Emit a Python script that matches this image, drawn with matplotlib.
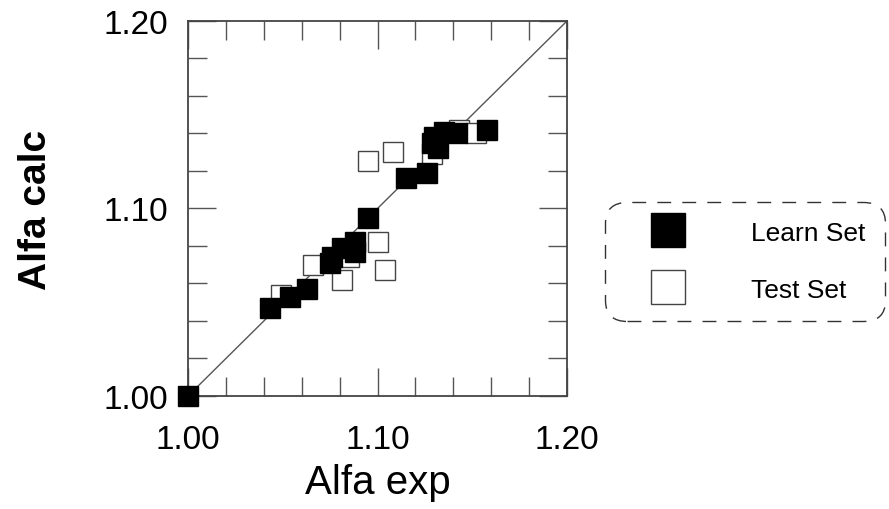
import numpy as np
import matplotlib.pyplot as plt
from matplotlib.ticker import MultipleLocator, FormatStrFormatter

plt.rcParams['font.family'] = ['Liberation Sans', 'DejaVu Sans']

# learn set (filled squares)
learn_x = [1.000, 1.043, 1.054, 1.063, 1.075, 1.076, 1.081, 1.088, 1.088, 1.095,
           1.115, 1.126, 1.129, 1.130, 1.132, 1.135, 1.142, 1.158]
learn_y = [1.000, 1.047, 1.053, 1.057, 1.071, 1.074, 1.079, 1.082, 1.077, 1.095,
           1.116, 1.119, 1.135, 1.138, 1.132, 1.141, 1.140, 1.142]

# test set (open squares)
test_x = [1.049, 1.066, 1.081, 1.085, 1.095, 1.100, 1.104, 1.108, 1.129, 1.143, 1.152]
test_y = [1.054, 1.070, 1.062, 1.074, 1.1255, 1.082, 1.067, 1.130, 1.129, 1.142, 1.140]

lims = [1.00, 1.20]

fig = plt.figure(figsize=(8.89, 5.10), dpi=100)
ax = fig.add_axes([0.2115, 0.2216, 0.4263, 0.7353])

ax.plot(lims, lims, color='#555555', lw=1, zorder=1)
ax.plot(test_x, test_y, 's', ms=14, mfc='white', mec='#444444', mew=1,
        ls='none', zorder=2, label='Test Set')
ax.plot(learn_x, learn_y, 's', ms=14, color='black', ls='none', zorder=3,
        clip_on=False, label='Learn Set')

ax.set_xlim(lims)
ax.set_ylim(lims)
for a in (ax.xaxis, ax.yaxis):
    a.set_major_locator(MultipleLocator(0.1))
    a.set_minor_locator(MultipleLocator(0.02))
    a.set_major_formatter(FormatStrFormatter('%.2f'))
ax.tick_params(which='both', direction='in', top=True, right=True,
               color='#555555', width=1)
ax.tick_params(which='major', length=20, labelsize=24)
ax.tick_params(which='minor', length=14)
ax.tick_params(axis='x', which='major', pad=20)
ax.tick_params(axis='y', which='major', pad=14)
for s in ax.spines.values():
    s.set_color('#444444')
    s.set_linewidth(1.3)

ax.set_xlabel('Alfa exp', fontsize=29, labelpad=6)
ax.set_ylabel('Alfa calc', fontsize=28, fontweight='bold', labelpad=36)

h, l = ax.get_legend_handles_labels()
leg = fig.legend(h[::-1], l[::-1], loc='center', bbox_to_anchor=(0.838, 0.486),
                 fontsize=19, markerscale=1.7, handlelength=3.3,
                 handletextpad=1.5, labelspacing=1.25, borderpad=0.7,
                 fancybox=True, framealpha=1)
frame = leg.get_frame()
frame.set_edgecolor('#333333')
frame.set_linewidth(1)
frame.set_linestyle((0, (10, 8)))
frame.set_boxstyle('round,pad=0.02,rounding_size=0.8')

fig.savefig('out.png', dpi=100)
